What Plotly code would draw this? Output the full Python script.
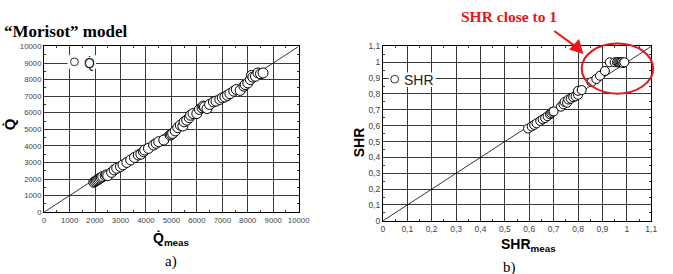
import plotly.graph_objects as go

# ---- data: left panel (Q-dot) ----
q_meas = [1950, 2000, 2050, 2100, 2150, 2200, 2250, 2300, 2400, 2450, 2500, 2650, 2750, 2850,
          3000, 3100, 3250, 3400, 3550, 3700, 3800, 3900, 3950, 4100, 4300, 4400, 4500, 4700,
          4950, 5000, 5050, 5150, 5250, 5350, 5450, 5500, 5600, 5700, 5750, 5850, 6000, 6100,
          6200, 6250, 6300, 6400, 6500, 6650, 6750, 6900, 7000, 7100, 7200, 7300, 7450, 7550,
          7700, 7850, 7900, 8000, 8100, 8150, 8200, 8300, 8400, 8500, 8600]
q_model = [1800, 1850, 1900, 1950, 2000, 2050, 2100, 2150, 2200, 2250, 2200, 2400, 2550, 2650,
           2750, 2850, 3000, 3150, 3300, 3450, 3500, 3650, 3750, 3850, 4050, 4150, 4250, 4350,
           4650, 4700, 4750, 4900, 5100, 5250, 5200, 5450, 5550, 5700, 5850, 5950, 5950, 6200,
           6300, 6400, 6350, 6250, 6500, 6650, 6700, 6800, 6900, 6950, 7050, 7150, 7300, 7400,
           7350, 7600, 7700, 7800, 8000, 8250, 8150, 8200, 8400, 8350, 8400]
q_diag = [0, 10000]
q_ticks = [0, 1000, 2000, 3000, 4000, 5000, 6000, 7000, 8000, 9000, 10000]
q_ticktext = ["0", "1000", "2000", "3000", "4000", "5000", "6000", "7000", "8000", "9000", "10000"]

# ---- data: right panel (SHR) ----
shr_meas = [0.595, 0.61, 0.62, 0.63, 0.645, 0.655, 0.665, 0.675, 0.685, 0.69, 0.695, 0.70,
            0.73, 0.74, 0.745, 0.755, 0.76, 0.77, 0.78, 0.79, 0.80, 0.80, 0.815, 0.855,
            0.875, 0.89, 0.91, 0.93, 0.95, 0.96, 0.965, 0.97, 0.975, 0.98, 0.985, 0.99]
shr_model = [0.582, 0.595, 0.605, 0.615, 0.63, 0.64, 0.648, 0.66, 0.672, 0.68, 0.688, 0.69,
             0.72, 0.735, 0.75, 0.745, 0.765, 0.77, 0.78, 0.785, 0.795, 0.82, 0.825, 0.875,
             0.895, 0.915, 0.945, 1.0, 1.0, 1.0, 1.0, 1.0, 1.0, 1.0, 0.995, 1.0]
shr_diag = [0, 1.1]
shr_tickvals = [0, 0.1, 0.2, 0.3, 0.4, 0.5, 0.6, 0.7, 0.8, 0.9, 1.0, 1.1]
shr_ticktext = ["0", "0,1", "0,2", "0,3", "0,4", "0,5", "0,6", "0,7", "0,8", "0,9", "1", "1,1"]

W, H = 673, 274
def px(x):
    return x / W
def py(y):
    return 1 - y / H

SANS = "Liberation Sans, Arial, Helvetica, sans-serif"
SERIF = "Liberation Serif, Times New Roman, serif"

fig = go.Figure()
fig.add_trace(go.Scatter(x=q_diag, y=q_diag, mode="lines", line=dict(color="black", width=0.8),
                         xaxis="x", yaxis="y", showlegend=False, hoverinfo="skip"))
fig.add_trace(go.Scatter(x=q_meas, y=q_model, mode="markers", name="Q̇",
                         marker=dict(symbol="circle", size=10, color="white",
                                     line=dict(color="black", width=1)),
                         xaxis="x", yaxis="y", showlegend=False))
fig.add_trace(go.Scatter(x=shr_diag, y=shr_diag, mode="lines", line=dict(color="black", width=0.8),
                         xaxis="x2", yaxis="y2", showlegend=False, hoverinfo="skip"))
fig.add_trace(go.Scatter(x=shr_meas, y=shr_model, mode="markers", name="SHR",
                         marker=dict(symbol="circle", size=9, color="white",
                                     line=dict(color="black", width=1)),
                         xaxis="x2", yaxis="y2", showlegend=False))

common = dict(showgrid=True, gridcolor="#3a3a3a", gridwidth=1, zeroline=False,
              showline=True, linecolor="black", linewidth=1, mirror="allticks",
              ticks="inside", ticklen=3, tickcolor="#333", tickwidth=0.8)

fig.update_layout(
    width=W, height=H, margin=dict(l=0, r=0, t=0, b=0),
    paper_bgcolor="white", plot_bgcolor="white", showlegend=False,
    xaxis=dict(domain=[px(43), px(303)], range=[0, 10000], tickvals=q_ticks,
               ticktext=q_ticktext, anchor="y",
               tickfont=dict(family=SANS, size=7.8, color="#444"),
               minor=dict(ticks="inside", ticklen=2, dtick=500, tickcolor="#333", showgrid=False),
               **common),
    yaxis=dict(domain=[py(215), py(43)], range=[0, 10000], tickvals=q_ticks,
               ticktext=q_ticktext, anchor="x",
               tickfont=dict(family=SANS, size=7.8, color="#444"),
               minor=dict(ticks="inside", ticklen=2, dtick=500, tickcolor="#333", showgrid=False),
               **common),
    xaxis2=dict(domain=[px(389), px(663)], range=[0, 1.1], tickvals=shr_tickvals,
                ticktext=shr_ticktext, anchor="y2",
                tickfont=dict(family=SANS, size=8.5, color="#444"),
                minor=dict(ticks="inside", ticklen=2, dtick=0.05, tickcolor="#333", showgrid=False),
                **common),
    yaxis2=dict(domain=[py(224), py(43)], range=[0, 1.1], tickvals=shr_tickvals,
                ticktext=shr_ticktext, anchor="x2",
                tickfont=dict(family=SANS, size=8.5, color="#444"),
                minor=dict(ticks="inside", ticklen=2, dtick=0.05, tickcolor="#333", showgrid=False),
                **common),
)

# red arrow head as filled triangle (paper coordinates)
tip = (px(593), py(50))
b1 = (px(580), py(46))
b2 = (px(589), py(36))
arrow_head = f"M {tip[0]:.5f},{tip[1]:.5f} L {b1[0]:.5f},{b1[1]:.5f} L {b2[0]:.5f},{b2[1]:.5f} Z"

shapes = [
    # legend boxes (white) + symbols
    dict(type="rect", xref="paper", yref="paper", x0=px(67), x1=px(96), y0=py(66), y1=py(52),
         fillcolor="white", line=dict(width=0), layer="above"),
    dict(type="circle", xref="paper", yref="paper", x0=px(70), x1=px(78), y0=py(63), y1=py(55),
         fillcolor="white", line=dict(color="black", width=0.8), layer="above"),
    dict(type="rect", xref="paper", yref="paper", x0=px(395), x1=px(443), y0=py(85), y1=py(70),
         fillcolor="white", line=dict(width=0), layer="above"),
    dict(type="circle", xref="paper", yref="paper", x0=px(397), x1=px(405), y0=py(81), y1=py(73),
         fillcolor="white", line=dict(color="black", width=0.8), layer="above"),
    # red ellipse
    dict(type="circle", xref="paper", yref="paper", x0=px(592), x1=px(665), y0=py(92), y1=py(40),
         line=dict(color="#e8141c", width=2), layer="above"),
    # red arrow shaft
    dict(type="line", xref="paper", yref="paper", x0=px(564), y0=py(27), x1=px(587), y1=py(44),
         line=dict(color="#e8141c", width=2), layer="above"),
    dict(type="path", xref="paper", yref="paper", path=arrow_head,
         fillcolor="#e8141c", line=dict(color="#e8141c", width=1), layer="above"),
]

annotations = [
    dict(text="Q̇", x=px(82), y=py(60), xref="paper", yref="paper", xanchor="left", yanchor="middle",
         showarrow=False, font=dict(family=SANS, size=14, color="#222")),
    dict(text="SHR", x=px(409), y=py(78), xref="paper", yref="paper", xanchor="left", yanchor="middle",
         showarrow=False, font=dict(family=SANS, size=14, color="#222")),
    dict(text="<b>“Morisot” model</b>", x=0, y=py(28), xref="paper", yref="paper", xanchor="left",
         yanchor="middle", showarrow=False, font=dict(family=SERIF, size=17, color="black")),
    dict(text="<b>Q̇</b>", x=px(8), y=py(124), xref="paper", yref="paper", textangle=-90,
         xanchor="center", yanchor="middle", showarrow=False,
         font=dict(family=SANS, size=15, color="black")),
    dict(text="<b>Q̇<sub>meas</sub></b>", x=px(173), y=py(243), xref="paper", yref="paper",
         xanchor="center", yanchor="middle", showarrow=False,
         font=dict(family=SANS, size=14, color="black")),
    dict(text="a)", x=px(173), y=py(266), xref="paper", yref="paper", xanchor="center",
         yanchor="middle", showarrow=False, font=dict(family=SERIF, size=15, color="black")),
    dict(text="<b>SHR</b>", x=px(364), y=py(142), xref="paper", yref="paper", textangle=-90,
         xanchor="center", yanchor="middle", showarrow=False,
         font=dict(family=SANS, size=14, color="black")),
    dict(text="<b>SHR<sub>meas</sub></b>", x=px(538), y=py(249), xref="paper", yref="paper",
         xanchor="center", yanchor="middle", showarrow=False,
         font=dict(family=SANS, size=14, color="black")),
    dict(text="b)", x=px(518), y=py(272), xref="paper", yref="paper", xanchor="center",
         yanchor="middle", showarrow=False, font=dict(family=SERIF, size=15, color="black")),
    dict(text="<b>SHR close to 1</b>", x=px(518), y=py(12), xref="paper", yref="paper",
         xanchor="center", yanchor="middle", showarrow=False,
         font=dict(family=SERIF, size=15.5, color="#e8141c")),
]

fig.update_layout(shapes=shapes, annotations=annotations)
fig.write_html("out.html")
